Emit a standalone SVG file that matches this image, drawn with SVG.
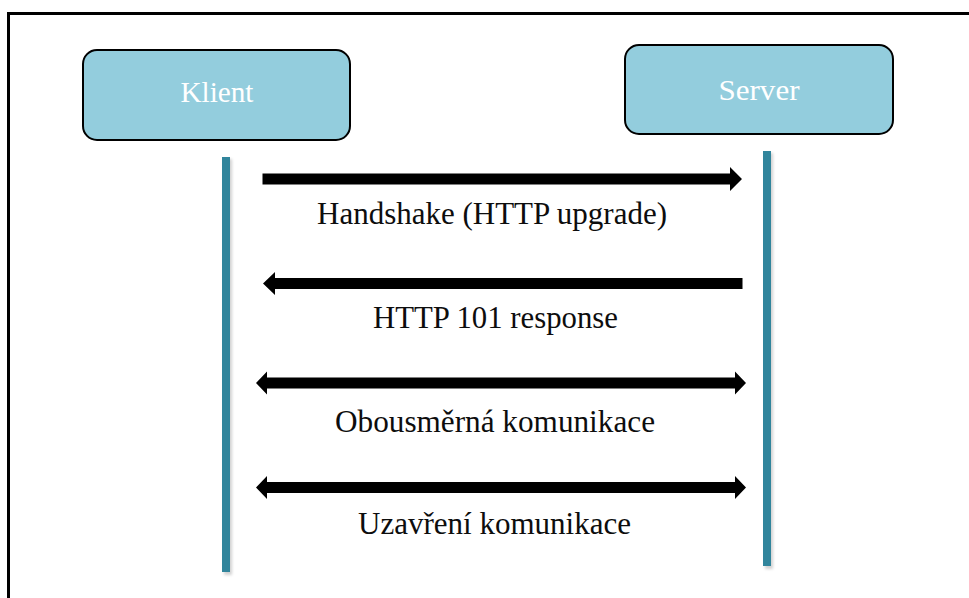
<svg xmlns="http://www.w3.org/2000/svg" width="969" height="598" viewBox="0 0 969 598">
  <style>
    .node rect { fill: #93cddd; stroke: #000; stroke-width: 2; }
    .node text { font-family: "Liberation Serif", "DejaVu Serif", serif; font-size: 30px; fill: #fff; text-anchor: middle; }
    .lifeline { fill: #31859c; }
    .lifeshadow { fill: #000; opacity: 0.18; }
    .arrow { fill: #000; }
    .label { font-family: "Liberation Serif", "DejaVu Serif", serif; font-size: 31px; fill: #0d0d0d; }
  </style>
  <defs>
    <filter id="soft" x="-50%" y="-5%" width="200%" height="110%">
      <feGaussianBlur stdDeviation="1.5"/>
    </filter>
  </defs>

  <rect width="969" height="598" fill="#fff"/>
  <!-- frame -->
  <path d="M8.5 598 V13.5 H969" fill="none" stroke="#000" stroke-width="3"/>

  <g id="klient" class="node">
    <rect x="83" y="50" width="267" height="90" rx="14"/>
    <text x="217" y="102" textLength="73" lengthAdjust="spacingAndGlyphs">Klient</text>
  </g>

  <g id="server" class="node">
    <rect x="625" y="45" width="268" height="89" rx="14"/>
    <text x="759" y="100" textLength="81" lengthAdjust="spacingAndGlyphs">Server</text>
  </g>

  <g id="lifelines">
    <rect class="lifeshadow" x="224" y="159" width="8" height="416" filter="url(#soft)"/>
    <rect class="lifeline" x="222" y="157" width="8" height="415"/>
    <rect class="lifeshadow" x="765" y="153" width="8" height="416" filter="url(#soft)"/>
    <rect class="lifeline" x="763" y="151" width="8" height="415"/>
  </g>

  <g id="connectors">
    <!-- handshake: client to server -->
    <path class="arrow" d="M262.5 173.5 H730 V167 L742 179 L730 191 V184.5 H262.5 Z"/>
    <!-- 101 response: server to client -->
    <path class="arrow" d="M742.5 278 H275 V272 L263 283.5 L275 295 V289 H742.5 Z"/>
    <!-- bidirectional -->
    <path class="arrow" d="M267 377.5 H735 V371.5 L746 383 L735 394.5 V388.5 H267 V394.5 L256 383 L267 371.5 Z"/>
    <!-- close -->
    <path class="arrow" d="M267 482 H735 V476 L746 487.5 L735 499 V493 H267 V499 L256 487.5 L267 476 Z"/>
  </g>

  <g id="labels">
    <text class="label" x="317" y="224" textLength="350" lengthAdjust="spacingAndGlyphs">Handshake (HTTP upgrade)</text>
    <text class="label" x="373" y="328" textLength="245" lengthAdjust="spacingAndGlyphs">HTTP 101 response</text>
    <text class="label" x="335" y="432" textLength="320" lengthAdjust="spacingAndGlyphs">Obousměrná komunikace</text>
    <text class="label" x="358" y="534" textLength="273" lengthAdjust="spacingAndGlyphs">Uzavření komunikace</text>
  </g>
</svg>
